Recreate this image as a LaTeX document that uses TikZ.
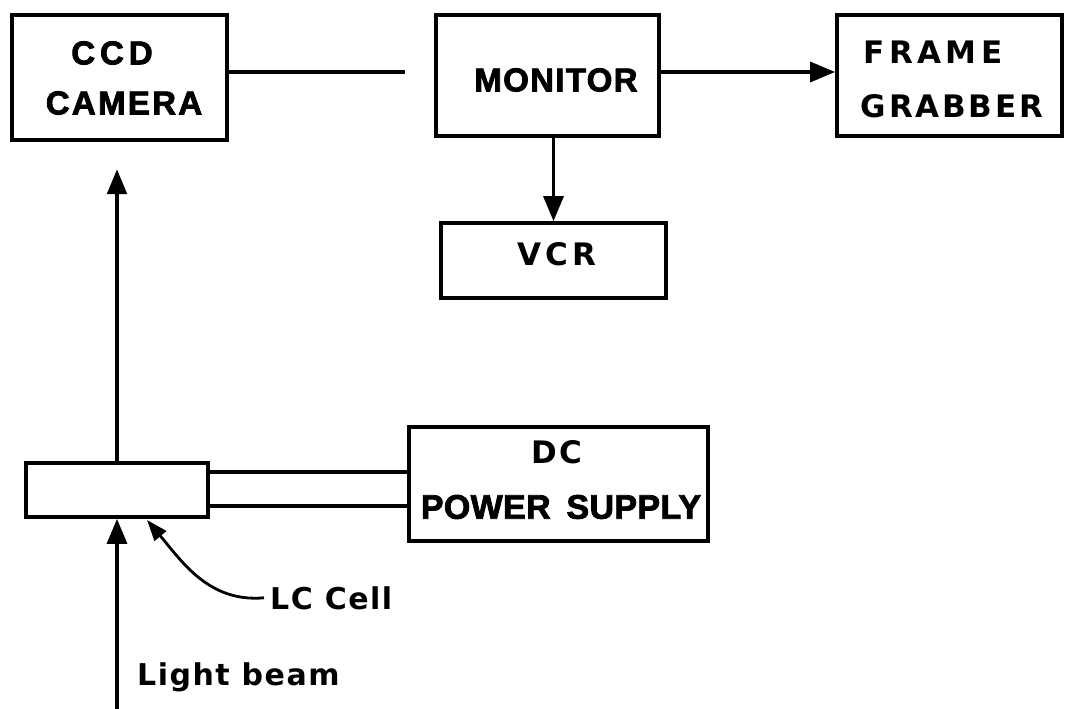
\documentclass[tikz,border=0pt]{standalone}
\usepackage{fontspec}
\usetikzlibrary{arrows.meta}
\newfontfamily\helvW[LetterSpace=15]{Liberation Sans}
\newfontfamily\helvM[LetterSpace=7]{Liberation Sans}
\newfontfamily\helvN[LetterSpace=4]{Liberation Sans}
\newfontfamily\helvP[LetterSpace=1]{Liberation Sans}
\newfontfamily\dinW[LetterSpace=14]{DejaVu Sans}
\newfontfamily\dinM[LetterSpace=9]{DejaVu Sans}
\newfontfamily\dinS[LetterSpace=5]{DejaVu Sans}
\newcommand\heavytext[1]{\special{pdf:literal direct 2 Tr 0.8 w}#1\special{pdf:literal direct 0 Tr}}
\tikzset{
  box/.style={draw, line width=3.8pt, inner sep=0pt, rectangle},
  conn/.style={line width=3.4pt},
  arr/.style={line width=3.4pt, -{Triangle[length=25pt,width=20pt]}},
  thickarr/.style={line width=4.8pt, -{Triangle[length=25pt,width=19pt]}},
  thinarr/.style={line width=2.8pt, -{Triangle[length=21pt,width=15pt]}},
  lab/.style={inner sep=0pt},
}
\begin{document}
\begin{tikzpicture}[x=1pt, y=-1pt]
\useasboundingbox (0,0) rectangle (1066,709);
% boxes
\node[box, minimum width=215pt, minimum height=125pt] (ccd) at (119.5,77.5) {};
\node[box, minimum width=223pt, minimum height=121pt] (mon) at (547.5,75.5) {};
\node[box, minimum width=225pt, minimum height=121pt] (fg) at (949.5,75.5) {};
\node[box, minimum width=225pt, minimum height=75pt] (vcr) at (553.5,260.5) {};
\node[box, minimum width=182pt, minimum height=54pt] (lc) at (117,490) {};
\node[box, minimum width=299pt, minimum height=114pt] (dc) at (558.5,484) {};
% texts
\node[lab, font=\helvW\fontsize{33}{33}\selectfont\bfseries] (ccdA) at (112,53) {\heavytext{CCD}};
\node[lab, font=\helvM\fontsize{33}{33}\selectfont\bfseries] (ccdB) at (124,103) {\heavytext{CAMERA}};
\node[lab, font=\helvN\fontsize{33}{33}\selectfont\bfseries] (monT) at (556,80) {\heavytext{MONITOR}};
\node[lab, font=\dinW\fontsize{31}{31}\selectfont\bfseries] (fgA) at (933,52) {FRAME};
\node[lab, font=\dinM\fontsize{31}{31}\selectfont\bfseries] (fgB) at (952,106) {GRABBER};
\node[lab, font=\dinW\fontsize{31}{31}\selectfont\bfseries] (vcrT) at (557,254) {VCR};
\node[lab, font=\dinM\fontsize{31}{31}\selectfont\bfseries] (dcA) at (557,452) {DC};
\node[lab, font=\helvP\fontsize{34}{34}\selectfont\bfseries] (dcB) at (561,507) {\heavytext{POWER\hspace{6pt} SUPPLY}};
\node[lab, anchor=base west, font=\dinS\fontsize{30}{30}\selectfont\bfseries] (lcT) at (270,609) {LC Cell};
\node[lab, anchor=base west, font=\dinS\fontsize{30}{30}\selectfont\bfseries] (beamT) at (137,685) {Light beam};
% coordinates
\coordinate (row) at (0,72);
\coordinate (cend) at (405,72);
\coordinate (camtip) at (117,169);
\coordinate (beamstart) at (117,709);
\coordinate (wireA) at (0,472);
\coordinate (wireB) at (0,506);
\coordinate (lctip) at (147,520);
% connectors
\draw[conn] (ccd.east |- row) -- (cend);
\draw[arr] (mon.east |- row) -- (fg.west |- row);
\draw[arr] (vcr.north |- mon.south) -- (vcr.north);
\draw[thickarr] (lc.north) -- (camtip);
\draw[arr] (beamstart) -- (lc.south);
\draw[conn] (lc.east |- wireA) -- (dc.west |- wireA);
\draw[conn] (lc.east |- wireB) -- (dc.west |- wireB);
\draw[thinarr] ([xshift=-6pt]lcT.west) to[out=185, in=-50] (lctip);
\end{tikzpicture}
\end{document}
